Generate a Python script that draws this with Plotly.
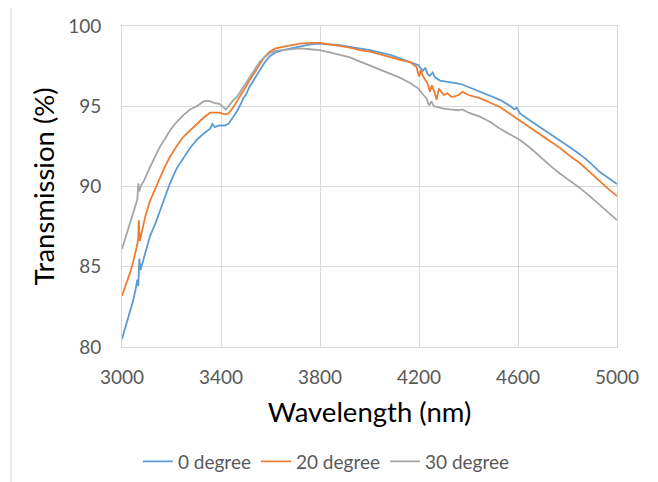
import plotly.graph_objects as go

# ---- data ----
wl_0 = [3000, 3010, 3020, 3030, 3045, 3055, 3062, 3066, 3070, 3075, 3090, 3113, 3135, 3154, 3175,
        3194, 3220, 3248, 3275, 3302, 3330, 3356, 3365, 3375, 3394, 3415, 3430, 3448, 3465, 3482,
        3490, 3500, 3515, 3535, 3556, 3575, 3596, 3620, 3650, 3680, 3717, 3760, 3798, 3840, 3880,
        3921, 3960, 4002, 4040, 4083, 4120, 4164, 4198, 4215, 4225, 4235, 4244, 4255, 4265, 4285,
        4325, 4366, 4400, 4446, 4490, 4527, 4570, 4585, 4595, 4608, 4650, 4689, 4730, 4770, 4810,
        4851, 4890, 4931, 4965, 5000]
t_0 = [80.5, 81.0, 81.6, 82.1, 82.9, 83.6, 84.2, 83.8, 85.5, 84.8, 85.6, 86.9, 87.7, 88.5, 89.4,
       90.2, 91.1, 91.8, 92.4, 92.9, 93.3, 93.6, 93.9, 93.7, 93.8, 93.8, 93.9, 94.3, 94.7, 95.2,
       95.5, 95.7, 96.2, 96.7, 97.2, 97.7, 98.1, 98.35, 98.5, 98.6, 98.75, 98.85, 98.9, 98.85, 98.8,
       98.7, 98.6, 98.5, 98.35, 98.2, 98.0, 97.75, 97.55, 97.2, 97.4, 97.0, 96.9, 97.1, 96.8, 96.6,
       96.5, 96.4, 96.2, 95.9, 95.6, 95.4, 95.0, 94.8, 94.9, 94.55, 94.1, 93.7, 93.3, 92.9, 92.45,
       92.0, 91.5, 90.9, 90.55, 90.15]

wl_20 = [3000, 3010, 3020, 3032, 3045, 3055, 3062, 3066, 3068, 3072, 3080, 3095, 3113, 3135, 3154,
         3175, 3194, 3220, 3248, 3275, 3302, 3330, 3356, 3375, 3394, 3415, 3430, 3448, 3465, 3482,
         3500, 3515, 3535, 3556, 3575, 3596, 3620, 3650, 3680, 3717, 3760, 3798, 3840, 3880, 3921,
         3960, 4002, 4040, 4083, 4120, 4164, 4190, 4200, 4208, 4215, 4224, 4235, 4244, 4252, 4262,
         4271, 4280, 4290, 4300, 4315, 4330, 4341, 4360, 4376, 4400, 4446, 4490, 4527, 4570, 4608,
         4650, 4689, 4730, 4770, 4810, 4851, 4890, 4931, 4965, 5000]
t_20 = [83.2, 83.6, 84.0, 84.6, 85.3, 85.9, 86.4, 86.9, 87.9, 86.6, 87.2, 88.2, 89.1, 89.9, 90.6,
        91.3, 91.85, 92.5, 93.1, 93.5, 93.9, 94.3, 94.6, 94.6, 94.6, 94.5, 94.55, 94.9, 95.3, 95.7,
        96.2, 96.6, 97.1, 97.65, 98.05, 98.4, 98.6, 98.7, 98.8, 98.9, 98.95, 98.95, 98.85, 98.75, 98.65,
        98.5, 98.4, 98.25, 98.05, 97.9, 97.75, 97.45, 96.85, 97.25, 96.9, 96.7, 96.4, 95.9, 96.3, 95.9,
        95.4, 96.1, 95.9, 95.7, 95.8, 95.6, 95.6, 95.7, 95.9, 95.7, 95.5, 95.2, 94.95, 94.5, 94.1,
        93.7, 93.3, 92.85, 92.4, 91.9, 91.45, 90.9, 90.3, 89.85, 89.4]

wl_30 = [3000, 3010, 3020, 3032, 3045, 3055, 3062, 3066, 3070, 3075, 3090, 3113, 3135, 3154, 3175,
         3194, 3220, 3248, 3275, 3302, 3330, 3345, 3356, 3375, 3394, 3410, 3420, 3428, 3448, 3465,
         3482, 3500, 3515, 3535, 3556, 3575, 3596, 3620, 3650, 3680, 3717, 3760, 3798, 3840, 3880,
         3921, 3960, 4002, 4040, 4083, 4120, 4164, 4198, 4218, 4230, 4241, 4250, 4260, 4271, 4300,
         4325, 4360, 4376, 4400, 4446, 4490, 4527, 4570, 4608, 4650, 4689, 4730, 4770, 4810, 4851,
         4890, 4931, 4965, 5000]
t_30 = [86.1, 86.6, 87.1, 87.8, 88.3, 88.8, 89.2, 90.2, 89.7, 90.0, 90.4, 91.2, 91.9, 92.5, 93.0,
        93.5, 94.0, 94.45, 94.8, 95.0, 95.3, 95.35, 95.3, 95.2, 95.15, 94.95, 94.8, 94.95, 95.35, 95.6,
        96.0, 96.4, 96.8, 97.3, 97.75, 98.05, 98.3, 98.45, 98.5, 98.55, 98.6, 98.55, 98.5, 98.35, 98.2,
        98.05, 97.8, 97.55, 97.3, 97.05, 96.8, 96.45, 96.1, 95.7, 95.5, 95.05, 95.3, 95.0, 94.95, 94.85,
        94.8, 94.75, 94.8, 94.6, 94.35, 94.0, 93.6, 93.25, 92.9, 92.4, 91.85, 91.3, 90.8, 90.35, 89.9,
        89.4, 88.85, 88.4, 87.9]

series_names = ["0 degree", "20 degree", "30 degree"]
x_ticks = [3000, 3400, 3800, 4200, 4600, 5000]
y_ticks = [80, 85, 90, 95, 100]

colors = ["#5B9BD5", "#ED7D31", "#A5A5A5"]
FONT = "Lato"
GRID = "#d9d9d9"

fig = go.Figure()
for xs, ys, name, c in zip([wl_0, wl_20, wl_30], [t_0, t_20, t_30], series_names, colors):
    fig.add_trace(go.Scatter(x=xs, y=ys, mode="lines", name=name,
                             line=dict(color=c, width=1.8)))

# page body adds an 8px margin, so the figure is 8px smaller in each direction
fig.update_layout(
    width=650, height=474,
    margin=dict(l=114, r=41, t=18, b=135, autoexpand=False),
    paper_bgcolor="white", plot_bgcolor="white",
    font=dict(family=FONT, color="#595959", size=19),
    showlegend=True,
    legend=dict(orientation="h", x=0.413, xanchor="center", y=-0.357, yanchor="middle",
                font=dict(family=FONT, size=19, color="#595959"), itemwidth=30,
                traceorder="normal"),
    shapes=[dict(type="rect", xref="paper", yref="paper",
                 x0=-0.2242, x1=1.0727, y0=-0.46, y1=1.0654,
                 line=dict(color=GRID, width=1.2), layer="below")],
)
fig.update_xaxes(range=[3000, 5000], tickvals=x_ticks, showgrid=True, gridcolor=GRID,
                 gridwidth=1, zeroline=False, showline=True, linecolor=GRID, mirror=True,
                 ticks="outside", ticklen=13, tickcolor="rgba(0,0,0,0)",
                 tickfont=dict(family=FONT, size=19, color="#595959"),
                 title=dict(text="Wavelength (nm)", font=dict(family=FONT, size=27.5, color="#000000"),
                            standoff=15))
fig.update_yaxes(range=[80, 100], tickvals=y_ticks, showgrid=True, gridcolor=GRID,
                 gridwidth=1, zeroline=False, showline=True, linecolor=GRID, mirror=True,
                 ticks="outside", ticklen=16, tickcolor="rgba(0,0,0,0)",
                 tickfont=dict(family=FONT, size=19, color="#595959"),
                 title=dict(text="Transmission (%)", font=dict(family=FONT, size=27.5, color="#000000"),
                            standoff=5))

fig.write_html("out.html")
